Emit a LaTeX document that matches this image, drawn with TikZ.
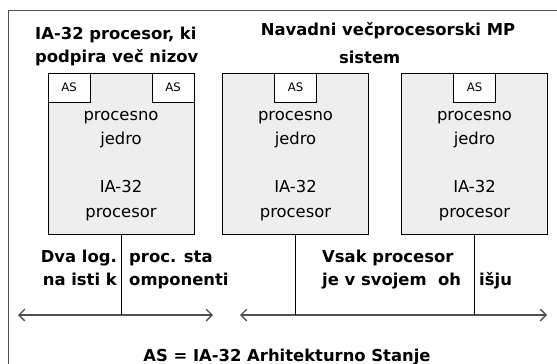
\documentclass[tikz,border=0pt]{standalone}
\usepackage{fontspec}
\setmainfont{DejaVu Sans}
\usetikzlibrary{arrows.meta, positioning}
\definecolor{coreGray}{RGB}{238,238,238}
\definecolor{lineGray}{RGB}{80,80,80}

\begin{document}
\begin{tikzpicture}[
      x=0.03cm, y=-0.03cm,
      core/.style={draw, fill=coreGray, minimum width=4.38cm, minimum height=4.83cm,
                   inner sep=0pt},
      archst/.style={draw, fill=white, minimum width=1.26cm, minimum height=0.87cm,
                     inner sep=0pt, font=\fontsize{10}{12}\selectfont},
      coretext/.style={align=center, inner sep=0pt, font=\fontsize{14}{20.5}\selectfont},
      lbl/.style={inner sep=0pt, font=\fontsize{14}{19.6}\selectfont\bfseries},
      bus/.style={<->, >={Straight Barb[length=5pt, width=10pt]}, line width=1.2pt,
                  color=lineGray},
      link/.style={line width=0.8pt}
    ]
      \useasboundingbox (0,0) rectangle (557,364);
      \clip (0,0) rectangle (557,364);
      \draw[line width=0.8pt, color=lineGray] (8,10) rectangle (600,400);
      % processor cores
      \node[core] (core1) at (121,153.5) {};
      \node[core] (core2) at (295.5,153.5) {};
      \node[core] (core3) at (474.5,153.5) {};
      \node[archst, anchor=north west] (as1a) at (core1.north west) {AS};
      \node[archst, anchor=north east] (as1b) at (core1.north east) {AS};
      \node[archst, anchor=north] (as2) at (core2.north) {AS};
      \node[archst, anchor=north] (as3) at (core3.north) {AS};
      \node[coretext, anchor=base] (txt1) at (121,217) {procesno\\jedro\\ \\IA-32\\procesor};
      \node[coretext, anchor=base] (txt2) at (295.5,217) {procesno\\jedro\\ \\IA-32\\procesor};
      \node[coretext, anchor=base] (txt3) at (474.5,217) {procesno\\jedro\\ \\IA-32\\procesor};
      % titles
      \node[lbl, align=left, anchor=base west] (title1) at (35,62)
        {IA-32 procesor, ki\\podpira več nizov};
      \node[lbl, align=center, anchor=base, font=\fontsize{14}{23.5}\selectfont\bfseries]
        (title2) at (388,63) {Navadni večprocesorski MP\\sistem\hspace*{1.1cm}};
      % buses
      \coordinate (busL1) at (18,315);
      \coordinate (busR1) at (213,315);
      \coordinate (busL2) at (240,315);
      \coordinate (busR2) at (547,315);
      \coordinate (tap1) at (core1.south |- busL1);
      \coordinate (tap2) at (core2.south |- busL2);
      \coordinate (tap3) at (core3.south |- busL2);
      \draw[bus] (busL1) -- (busR1);
      \draw[bus] (busL2) -- (busR2);
      \draw[link] (core1) -- (tap1);
      \draw[link] (core2) -- (tap2);
      \draw[link] (core3) -- (tap3);
      % notes
      \node[lbl, align=right, anchor=base east] (note1a) at (117,285) {Dva log.\\na isti k};
      \node[lbl, align=left, anchor=base west] (note1b) at (129,285) {proc. sta\\omponenti};
      \node[lbl, align=left, anchor=base west] (note2a) at (322,285)
        {Vsak procesor\\je v svojem\ \ oh};
      \node[lbl, anchor=base west] (note2b) at (479,285) {išju};
      \node[lbl, anchor=base] (legend) at (287,361) {AS = IA-32 Arhitekturno Stanje};
    \end{tikzpicture}
\end{document}
